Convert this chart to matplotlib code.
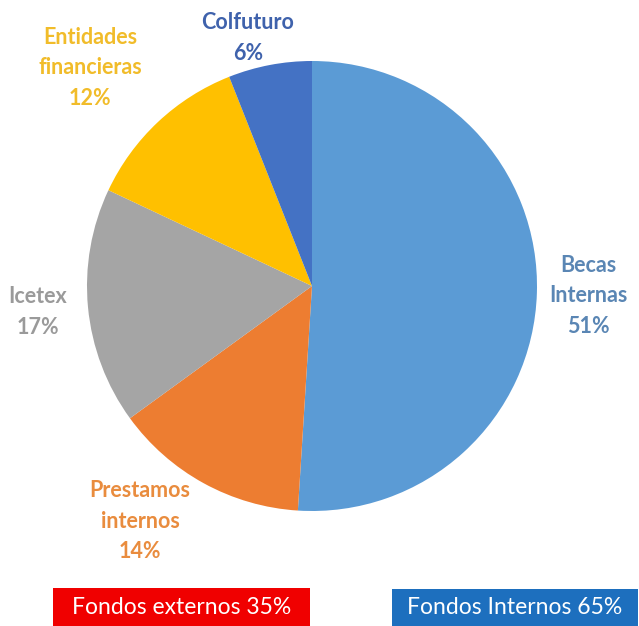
import matplotlib.pyplot as plt
from matplotlib.patches import Rectangle

# data
labels = ['Becas\nInternas', 'Prestamos\ninternos', 'Icetex', 'Entidades\nfinancieras', 'Colfuturo']
shares = [51, 14, 17, 12, 6]
slice_colors = ['#5B9BD5', '#ED7D31', '#A5A5A5', '#FFC000', '#4472C4']
label_colors = ['#5A86B4', '#E98C3E', '#9A9A9A', '#F1BC2A', '#3F62AC']
# where each label sits (pixel coords, y from top)
label_pos = [(588, 296), (140, 521), (38, 312), (90, 68), (248, 38)]

groups = ['Fondos externos 35%', 'Fondos Internos 65%']
group_colors = ['#F00000', '#1D6FBE']
group_boxes = [(53, 588, 257, 40), (392, 589, 246, 39)]

W, H = 639, 626
fig = plt.figure(figsize=(W / 100, H / 100), dpi=100)
ax = fig.add_axes([0, 0, 1, 1])

ax.pie(shares, colors=slice_colors, startangle=90, counterclock=False,
       center=(312, H - 286), radius=225, frame=True,
       wedgeprops=dict(linewidth=0))
ax.set_xlim(0, W)
ax.set_ylim(0, H)
ax.set_aspect('equal')
ax.axis('off')

for lab, v, c, (x, y) in zip(labels, shares, label_colors, label_pos):
    ax.text(x, H - y, f'{lab}\n{v}%', color=c, ha='center', va='center',
            fontsize=15.5, fontweight='bold', family='Lato', linespacing=1.55)

for g, c, (x, y, w, h) in zip(groups, group_colors, group_boxes):
    ax.add_patch(Rectangle((x, H - y - h), w, h, color=c, lw=0))
    ax.text(x + w / 2, H - y - h / 2 + 1, g, color='white', ha='center', va='center',
            fontsize=16.5, family='Lato')

fig.savefig('out.png', dpi=100)
